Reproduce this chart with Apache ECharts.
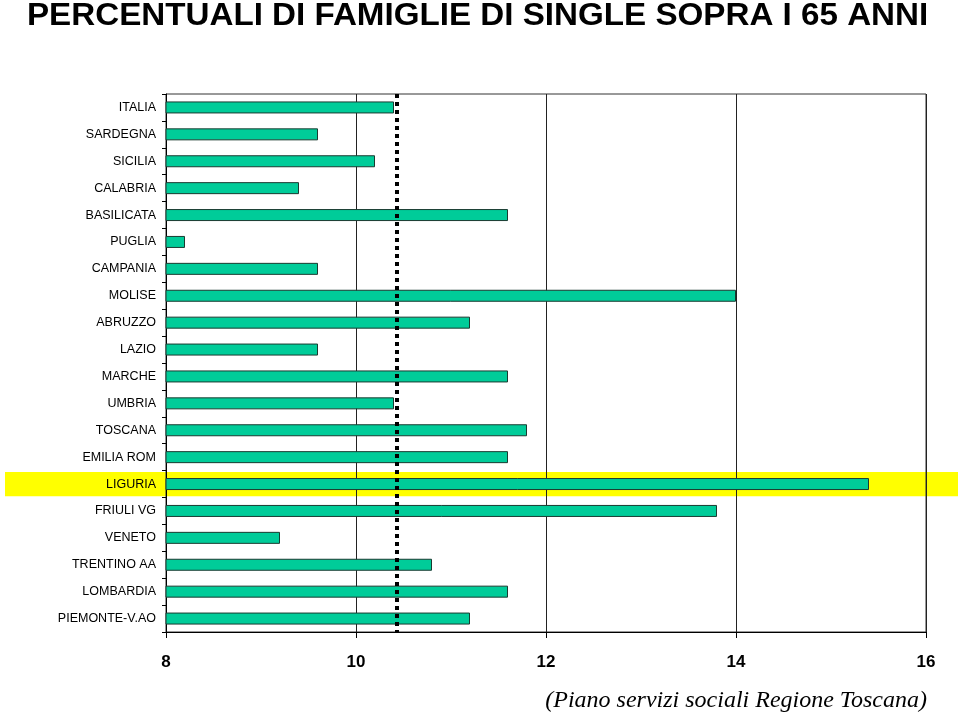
<!DOCTYPE html>
<html>
<head>
<meta charset="utf-8">
<script src="https://cdn.jsdelivr.net/npm/echarts@6/dist/echarts.min.js"></script>
<style>
html,body{margin:0;padding:0;background:#fff;}
#main{width:960px;height:715px;}
</style>
</head>
<body>
<div id="main"></div>
<script>
const titleText = 'PERCENTUALI DI FAMIGLIE DI SINGLE SOPRA I 65 ANNI';
const sourceText = '(Piano servizi sociali Regione Toscana)';
const regions = ['ITALIA','SARDEGNA','SICILIA','CALABRIA','BASILICATA','PUGLIA','CAMPANIA','MOLISE','ABRUZZO','LAZIO','MARCHE','UMBRIA','TOSCANA','EMILIA ROM','LIGURIA','FRIULI VG','VENETO','TRENTINO AA','LOMBARDIA','PIEMONTE-V.AO'];
const values = [10.4, 9.6, 10.2, 9.4, 11.6, 8.2, 9.6, 14.0, 11.2, 9.6, 11.6, 10.4, 11.8, 11.6, 15.4, 13.8, 9.2, 10.8, 11.6, 11.2];
const referenceLine = 10.43;
const highlighted = 'LIGURIA';
const xTicks = [8, 10, 12, 14, 16];

const chart = echarts.init(document.getElementById('main'), null, {renderer: 'canvas'});
const option = {
  animation: false,
  backgroundColor: '#ffffff',
  title: [{
    text: sourceText,
    right: 28, top: 684,
    textStyle: {fontFamily: 'Liberation Serif, Times New Roman, serif', fontStyle: 'italic', fontWeight: 'normal', fontSize: 24, color: '#000'}
  }],
  grid: {left: 166, right: 34, top: 94, bottom: 83, show: true, borderColor: '#333', borderWidth: 1, backgroundColor: 'transparent'},
  xAxis: {
    type: 'value', min: xTicks[0], max: xTicks[xTicks.length-1], interval: 2,
    axisLine: {show: true, lineStyle: {color: '#000', width: 1}},
    axisTick: {show: true, length: 6, inside: false, lineStyle: {color: '#000'}},
    axisLabel: {margin: 22, fontFamily: 'Liberation Sans, Arial, sans-serif', fontWeight: 'bold', fontSize: 17, color: '#000'},
    splitLine: {show: true, lineStyle: {color: '#222', width: 1}}
  },
  yAxis: {
    type: 'category', data: regions, inverse: true,
    axisLine: {show: true, lineStyle: {color: '#000', width: 1}},
    axisTick: {show: true, length: 4, alignWithLabel: false, lineStyle: {color: '#000'}},
    axisLabel: {margin: 10, fontFamily: 'Liberation Sans, Arial, sans-serif', fontSize: 12.5, color: '#000'},
    splitLine: {show: false}
  },
  series: [{
    type: 'bar',
    data: values,
    barWidth: 12,
    itemStyle: {color: '#00CC99', borderColor: '#1a3a30', borderWidth: 1},
    z: 3,
    markLine: {
      silent: true,
      symbol: 'none',
      label: {show: false},
      lineStyle: {color: '#000', width: 4, type: [4, 4]},
      data: [{xAxis: referenceLine}],
      z: 5
    }
  }]
};
chart.setOption(option);

function addExtras() {
  const idx = regions.indexOf(highlighted);
  const yc = chart.convertToPixel({yAxisIndex: 0}, idx);
  const y0 = chart.convertToPixel({yAxisIndex: 0}, 0);
  const y1 = chart.convertToPixel({yAxisIndex: 0}, 1);
  const step = Math.abs(y1 - y0);
  const h = step * 0.9;
  chart.setOption({
    graphic: [{
      type: 'rect', z: -10, zlevel: 0, silent: true,
      shape: {x: 5, y: yc - h / 2, width: 953, height: h},
      style: {fill: '#FFFF00'}
    }, {
      type: 'text', silent: true,
      x: 27, y: 1, scaleX: 1.07,
      style: {
        text: titleText, x: 0, y: 0,
        font: 'bold 31px "Liberation Sans", Arial, sans-serif',
        fill: '#000', verticalAlign: 'top', textVerticalAlign: 'top'
      }
    }]
  });
}
addExtras();
</script>
</body>
</html>
